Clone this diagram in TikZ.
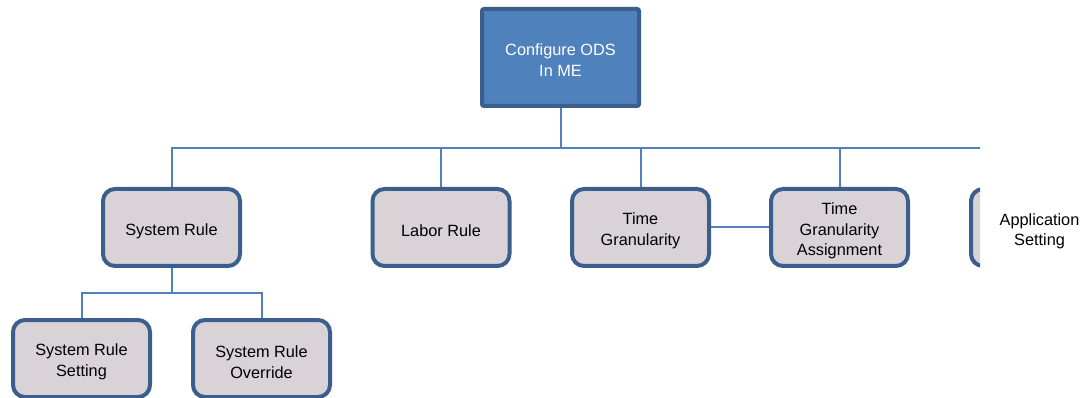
\documentclass[tikz,border=0pt]{standalone}
\usepackage{fontspec}
\setmainfont{Liberation Sans}
\definecolor{headfill}{HTML}{4F81BD}
\definecolor{edgeblue}{HTML}{3B5E8C}
\definecolor{linkblue}{HTML}{4F81BD}
\definecolor{cardfill}{HTML}{D9D3D8}
\tikzset{
  cardtext/.style={align=center, font=\fontsize{16.3}{20.5}\selectfont, text=black, inner sep=0pt},
  card/.style={draw=edgeblue, line width=4pt, fill=cardfill, rounded corners=12pt,
    minimum width=137pt, minimum height=77pt, inner sep=0pt},
  headcard/.style={draw=edgeblue, line width=4pt, fill=headfill, rounded corners=2pt,
    minimum width=157pt, minimum height=97pt, inner sep=0pt},
  % caption of a card, set a little below the geometric centre
  caption/.style 2 args={label={[cardtext, name=#1, yshift=-3.5pt]center:#2}},
  link/.style={draw=linkblue, line width=2pt}
}
\begin{document}
\begin{tikzpicture}[x=1pt, y=-1pt]
  \useasboundingbox (0,0) rectangle (1085,398);
  \begin{scope}
    \clip (0,0) rectangle (980,398);
    % boxes
    \node[headcard, label={[cardtext, text=white, name=toptext, yshift=-2.5pt]center:Configure ODS\\In ME}] (top) at (560.5,57.5) {};
    \node[card, caption={srtext}{System Rule}] (sr) at (171.5,227.5) {};
    \node[card, caption={lrtext}{Labor Rule}] (lr) at (441,227.5) {};
    \node[card, caption={tgtext}{Time\\Granularity}] (tg) at (640.5,227.5) {};
    \node[card, caption={tgatext}{Time\\Granularity\\Assignment}] (tga) at (839.5,227.5) {};
    \node[card] (app) at (1039.5,227.5) {};
    \node[card, caption={srstext}{System Rule\\Setting}] (srs) at (81.5,358.5) {};
    \node[card, caption={srotext}{System Rule\\Override}] (sro) at (261.5,358.5) {};
    % junction points of the tree
    \coordinate (bus) at (560.5,148);
    \coordinate (sub) at (171.5,293);
    % connectors
    \draw[link] (top.south) -- (bus);
    \draw[link] (bus) -| (sr.north);
    \draw[link] (bus) -| (app.north);
    \draw[link] (lr.north) -- (lr.north |- bus);
    \draw[link] (tg.north) -- (tg.north |- bus);
    \draw[link] (tga.north) -- (tga.north |- bus);
    \draw[link] (tg.east) -- (tga.west);
    \draw[link] (sr.south) -- (sub);
    \draw[link] (sub) -| (srs.north);
    \draw[link] (sub) -| (sro.north);
  \end{scope}
  \node[cardtext] (applabel) at (1039.5,231.5) {Application\\Setting};
\end{tikzpicture}
\end{document}
